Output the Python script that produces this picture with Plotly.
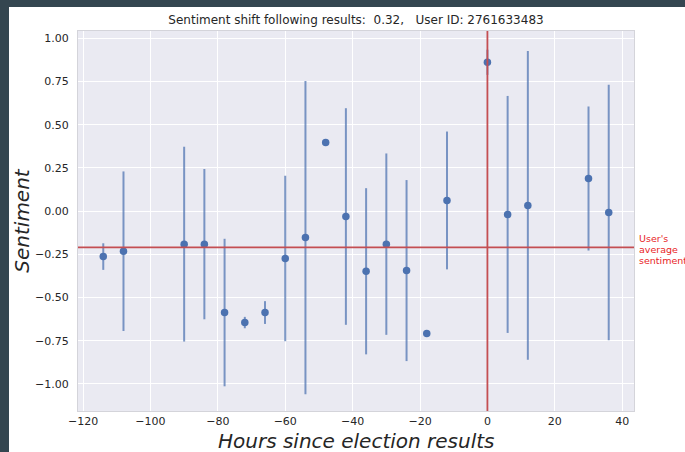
import plotly.graph_objects as go

# Hours relative to the announcement of the election results
hours = [-114, -108, -90, -84, -78, -72, -66, -60, -54, -48, -42,
         -36, -30, -24, -18, -12, 0, 6, 12, 30, 36]
# Mean sentiment of the user's posts in each 6-hour window
sentiment = [-0.263, -0.232, -0.191, -0.191, -0.587, -0.645, -0.587,
             -0.274, -0.153, 0.398, -0.031, -0.348, -0.191, -0.344,
             -0.709, 0.062, 0.862, -0.019, 0.033, 0.189, -0.008]
# Spread (one standard deviation) of the sentiment in each window
spread = [0.077, 0.462, 0.564, 0.435, 0.427, 0.033, 0.066, 0.479,
          0.907, 0.0, 0.627, 0.481, 0.525, 0.524, 0.0, 0.399, 0.073,
          0.686, 0.894, 0.417, 0.740]

average_sentiment = -0.21
sentiment_shift = 0.32
user_id = 2761633483
average_label = ["User's", "average", "sentiment"]

x_ticks = [-120, -100, -80, -60, -40, -20, 0, 20, 40]
y_ticks = [1.0, 0.75, 0.5, 0.25, 0.0, -0.25, -0.5, -0.75, -1.0]

BLUE = "#4C72B0"
RED = "#C44E52"
TEXT = "#262626"
FONT = "DejaVu Sans"

W, H = 685, 452
M_L, M_R, M_T, M_B = 78, 51, 31, 41
PW, PH = W - M_L - M_R, H - M_T - M_B


def px_to_paper_x(px):
    return (px - M_L) / PW


def px_to_paper_y(py):
    return (H - M_B - py) / PH


fig = go.Figure()

fig.add_trace(go.Scatter(
    x=hours, y=sentiment, mode="markers",
    marker=dict(color=BLUE, size=7.5),
    error_y=dict(type="data", array=spread, visible=True,
                 color="rgba(76,114,176,0.72)", thickness=2, width=0),
    showlegend=False, hoverinfo="x+y",
))

# User's average sentiment and the moment the results came out
fig.add_hline(y=average_sentiment, line=dict(color=RED, width=1.8))
fig.add_vline(x=0, line=dict(color=RED, width=1.8))

# Label beside the average line, one line of text per annotation
for i, word in enumerate(average_label):
    fig.add_annotation(
        text=word, xref="paper", yref="y",
        x=1.006, y=average_sentiment, yshift=9 - 11 * i,
        xanchor="left", yanchor="middle", showarrow=False, align="left",
        font=dict(family=FONT, size=9.5, color="#e8231f"),
    )

# x-axis title, set just below the tick labels
fig.add_annotation(
    text="<i>Hours since election results</i>", xref="paper", yref="paper",
    x=0.5, y=px_to_paper_y(441), xanchor="center", yanchor="middle",
    showarrow=False, font=dict(family=FONT, size=20, color=TEXT),
)

# Dark page border along the left and top edges
border = "#344650"
fig.add_shape(type="rect", xref="paper", yref="paper", layer="above",
              x0=px_to_paper_x(-5), x1=px_to_paper_x(9),
              y0=px_to_paper_y(H + 10), y1=px_to_paper_y(-5),
              fillcolor=border, line=dict(width=0))
fig.add_shape(type="rect", xref="paper", yref="paper", layer="above",
              x0=px_to_paper_x(-5), x1=px_to_paper_x(W + 5),
              y0=px_to_paper_y(7), y1=px_to_paper_y(-5),
              fillcolor=border, line=dict(width=0))

title = (f"Sentiment shift following results:\u00a0 {sentiment_shift:.2f},"
         f"\u00a0\u00a0 User ID: {user_id}")

axis_common = dict(
    showgrid=True, gridcolor="white", gridwidth=1.2,
    zeroline=False, showline=True, linecolor="#d4d4da", linewidth=1,
    mirror=True, ticks="outside", tickcolor="rgba(0,0,0,0)",
    tickfont=dict(family=FONT, size=11, color=TEXT),
    automargin=False,
)

fig.update_layout(
    width=W, height=H,
    margin=dict(l=M_L, r=M_R, t=M_T, b=M_B, autoexpand=False),
    paper_bgcolor="white", plot_bgcolor="#EAEAF2",
    title=dict(text=title, x=0.5, xref="paper", xanchor="center",
               y=1 - 20 / H, yanchor="middle",
               font=dict(family=FONT, size=12, color=TEXT)),
    xaxis=dict(**axis_common, range=[-121.5, 43.5], tickvals=x_ticks,
               ticktext=[f"\u2212{abs(v)}" if v < 0 else str(v) for v in x_ticks],
               ticklen=0),
    yaxis=dict(**axis_common, range=[-1.157, 1.043], tickvals=y_ticks,
               ticktext=[f"\u2212{abs(v):.2f}" if v < 0 else f"{v:.2f}" for v in y_ticks],
               ticklen=6,
               title=dict(text="<i>Sentiment</i>",
                          font=dict(family=FONT, size=20, color=TEXT),
                          standoff=0)),
)

fig.write_html("out.html")
